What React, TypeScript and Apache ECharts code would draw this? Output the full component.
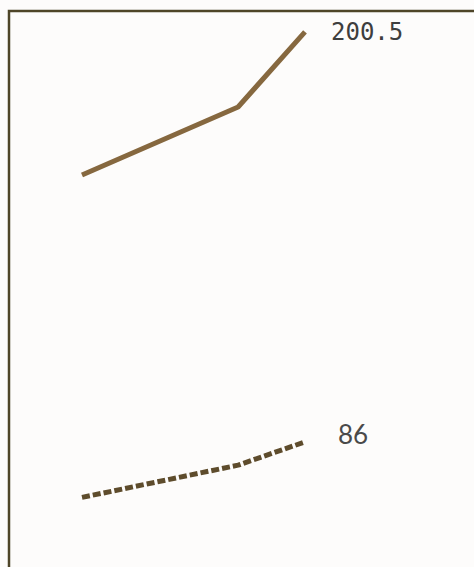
import React, { useEffect, useRef } from "react";
import * as echarts from "echarts";

const years = [2000, 2007, 2010];
const upperValues = [160.5, 179.5, 200.5];
const lowerValues = [70.5, 79.5, 86];

export default function App() {
  const ref = useRef<HTMLDivElement>(null);
  useEffect(() => {
    document.body.style.margin = "0";
    const chart = echarts.init(ref.current!, null, { renderer: "svg" });
    const pts = (vals: number[]) => vals.map((v, i) => [years[i], v]);
    chart.setOption({
      animation: false,
      backgroundColor: "#fdfcfb",
      grid: { left: 82, width: 223, top: 30, height: 505 },
      xAxis: { type: "value", min: 2000, max: 2010, show: false },
      yAxis: { type: "value", min: 60, max: 201, show: false },
      graphic: [
        {
          type: "rect",
          shape: { x: 9, y: 11, width: 520, height: 620 },
          style: { fill: "none", stroke: "#4e4528", lineWidth: 2.5 },
          silent: true,
        },
      ],
      series: [
        {
          type: "line",
          data: pts(upperValues),
          showSymbol: false,
          symbol: "none",
          clip: false,
          lineStyle: { color: "#86683f", width: 5 },
          endLabel: {
            show: true,
            distance: 26,
            formatter: (p: any) => String(p.value[1]),
            fontFamily: "DejaVu Sans Mono",
            fontSize: 24,
            color: "#3e3e3e",
          },
        },
        {
          type: "line",
          data: pts(lowerValues),
          showSymbol: false,
          symbol: "none",
          clip: false,
          lineStyle: { color: "#5e4c2c", width: 5, type: [8, 3], cap: "butt" },
          endLabel: {
            show: true,
            distance: 33,
            offset: [0, -8],
            formatter: (p: any) => String(p.value[1]),
            fontFamily: "Lato",
            fontSize: 26,
            color: "#4a4a4a",
          },
        },
      ],
    });
    return () => chart.dispose();
  }, []);
  return (
    <div
      ref={ref}
      style={{ position: "fixed", left: 0, top: 0, width: 474, height: 567 }}
    />
  );
}
